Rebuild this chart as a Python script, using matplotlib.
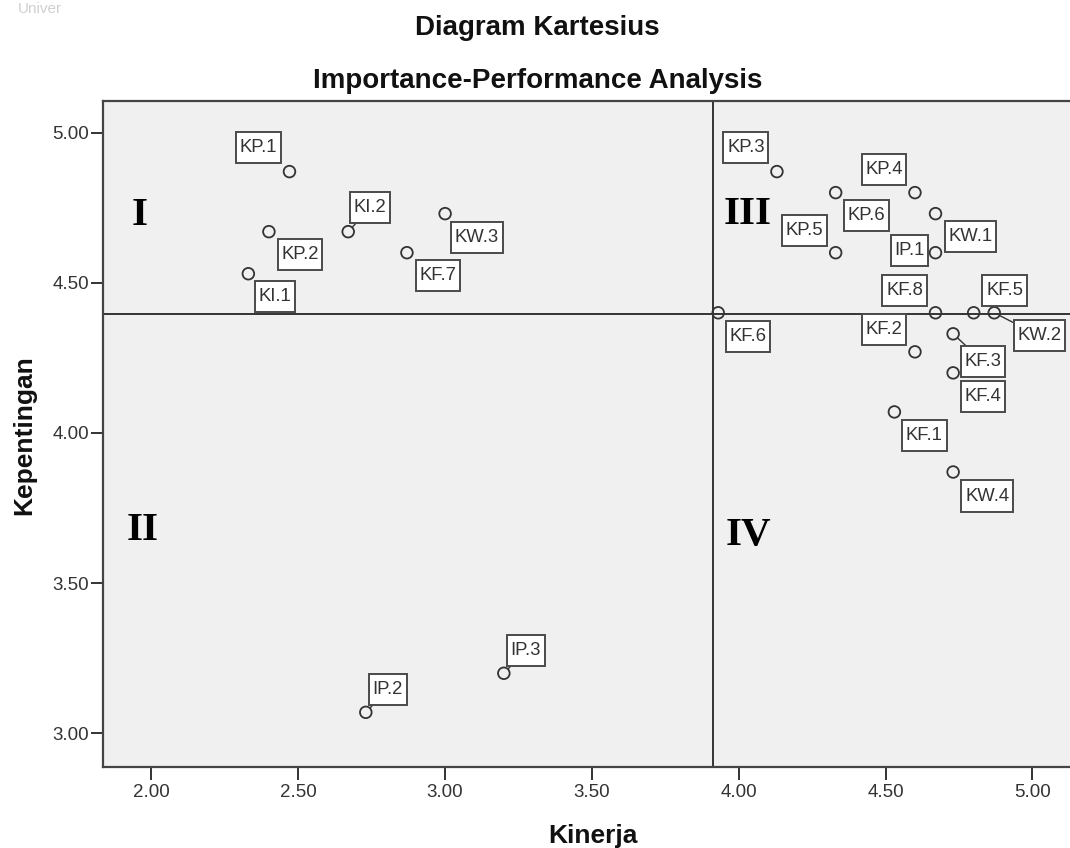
import numpy as np
import matplotlib
matplotlib.use("Agg")
import matplotlib.pyplot as plt
from matplotlib.ticker import FormatStrFormatter

plt.rcParams['font.family'] = ['Liberation Sans', 'DejaVu Sans']

# Data: atribut, kinerja (x), kepentingan (y)
labels = ["KP.1", "KP.2", "KI.1", "KI.2", "KW.3", "KF.7", "IP.2", "IP.3",
          "KP.3", "KP.4", "KP.6", "KP.5", "IP.1", "KW.1", "KF.8", "KF.5",
          "KW.2", "KF.6", "KF.2", "KF.3", "KF.4", "KF.1", "KW.4"]
kinerja = [2.47, 2.40, 2.33, 2.67, 3.00, 2.87, 2.73, 3.20,
           4.13, 4.60, 4.33, 4.33, 4.67, 4.67, 4.67, 4.80,
           4.87, 3.93, 4.60, 4.73, 4.73, 4.53, 4.73]
kepentingan = [4.87, 4.67, 4.53, 4.67, 4.73, 4.60, 3.07, 3.20,
               4.87, 4.80, 4.80, 4.60, 4.60, 4.73, 4.40, 4.40,
               4.40, 4.40, 4.27, 4.33, 4.20, 4.07, 3.87]
x_ticks = [2.0, 2.5, 3.0, 3.5, 4.0, 4.5, 5.0]
y_ticks = [3.0, 3.5, 4.0, 4.5, 5.0]
quadrants = ["I", "II", "III", "IV"]

# label box offsets from each point, in pixels (dx right, dy down)
label_offsets = {
    "KP.1": (-31, -24), "KP.2": (31, 23), "KI.1": (27, 23), "KI.2": (22, -24),
    "KW.3": (32, 24), "KF.7": (31, 23), "IP.2": (22, -23), "IP.3": (22, -23),
    "KP.3": (-31, -24), "KP.4": (-31, -23), "KP.6": (31, 23), "KP.5": (-31, -22),
    "IP.1": (-26, -2), "KW.1": (35, 23), "KF.8": (-31, -22), "KF.5": (31, -22),
    "KW.2": (45, 23), "KF.6": (30, 24), "KF.2": (-31, -22), "KF.3": (30, 28),
    "KF.4": (30, 24), "KF.1": (30, 24), "KW.4": (34, 24),
}
# labels that get a short leader line to their point
leader = ["KI.2", "IP.2", "IP.3", "KW.2", "KF.3"]
quad_pos = [(1.961, 4.724), (1.970, 3.675), (4.029, 4.728), (4.032, 3.658)]

mean_x = np.mean(kinerja)
mean_y = np.mean(kepentingan)

fig = plt.figure(figsize=(10.7, 8.48), dpi=100)
fig.patch.set_facecolor("white")
ax = fig.add_axes([103 / 1070, 81 / 848, 967 / 1070, 666 / 848])
ax.set_facecolor("#f0f0f0")

ax.set_xlim(1.835, 5.128)
ax.set_ylim(2.888, 5.105)

# reference lines at the means
ax.axvline(mean_x, color="#333333", lw=1.4, zorder=2)
ax.axhline(mean_y, color="#333333", lw=1.4, zorder=2)

ax.scatter(kinerja, kepentingan, s=70, facecolors="none",
           edgecolors="#333333", linewidths=1.3, zorder=4)

for lab, x, y in zip(labels, kinerja, kepentingan):
    dx, dy = label_offsets[lab]
    arrow = None
    if lab in leader:
        arrow = dict(arrowstyle="-", color="#333333", lw=1.0,
                     shrinkA=0, shrinkB=4.5)
    ax.annotate(
        lab,
        xy=(x, y),
        xytext=(dx * 0.72, -dy * 0.72),
        textcoords="offset points",
        ha="center",
        va="center",
        fontsize=13.3,
        color="#333333",
        bbox=dict(boxstyle="square,pad=0.2", fc="white", ec="#4a4a4a",
                  lw=1.4, mutation_aspect=1.9),
        arrowprops=arrow,
        zorder=5,
    )

for q, (qx, qy) in zip(quadrants, quad_pos):
    ax.text(qx, qy, q, ha="center", va="center", fontsize=29.5,
            fontweight="bold", family="Liberation Serif", color="black",
            zorder=3)

ax.set_xticks(x_ticks)
ax.set_yticks(y_ticks)
ax.xaxis.set_major_formatter(FormatStrFormatter("%.2f"))
ax.yaxis.set_major_formatter(FormatStrFormatter("%.2f"))
ax.tick_params(direction="out", length=9, width=1.4, color="#333333",
               labelsize=13.5, labelcolor="#333333")
ax.tick_params(axis="x", pad=3)
ax.tick_params(axis="y", pad=1)

for side in ["left", "top", "bottom"]:
    ax.spines[side].set_color("#444444")
    ax.spines[side].set_linewidth(1.6)
ax.spines["right"].set_visible(False)

# titles and axis labels
fig.text(537.5 / 1070, (848 - 35) / 848, "Diagram Kartesius", ha="center",
         va="baseline", fontsize=20, fontweight="bold", color="#111111")
fig.text(538 / 1070, (848 - 88) / 848, "Importance-Performance Analysis",
         ha="center", va="baseline", fontsize=20, fontweight="bold",
         color="#111111")
fig.text(593 / 1070, (848 - 843) / 848, "Kinerja", ha="center",
         va="baseline", fontsize=19, fontweight="bold", color="#111111")
fig.text(24 / 1070, (848 - 435) / 848, "Kepentingan", ha="center",
         va="center", rotation=90, fontsize=19, fontweight="bold",
         color="#111111")

# faint watermark at the top edge
fig.text(18 / 1070, (848 - 13) / 848, "Univer", ha="left", va="baseline",
         fontsize=11, color="#d0d0d0")

fig.savefig("out.png", dpi=100)
